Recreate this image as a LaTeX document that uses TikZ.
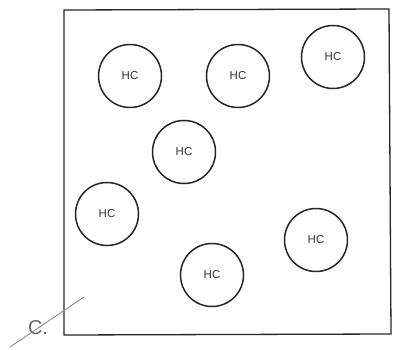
\documentclass[tikz,border=0pt]{standalone}
\usepackage{fontspec}
\setmainfont{Liberation Sans}
\usetikzlibrary{positioning}

\begin{document}
\begin{tikzpicture}[x=1pt, y=-1pt,
    cell/.style={circle, draw=black!85, line width=1.5pt, minimum size=63pt, inner sep=0pt, font=\fontsize{11.5}{12}\selectfont, text=black!80}]

        \useasboundingbox (0,0) rectangle (401,350);

        % Outer frame
        \draw[black!85, line width=1.3pt] (64,10) -- (389,9) -- (391,334) -- (64,335) -- cycle;

        % Cells
        \node[cell] (hc1) at (130,76) {HC};
        \node[cell] (hc2) at (238,76) {HC};
        \node[cell] (hc3) at (333,57) {HC};
        \node[cell] (hc4) at (184,152) {HC};
        \node[cell] (hc5) at (107,214) {HC};
        \node[cell] (hc6) at (316,240) {HC};
        \node[cell] (hc7) at (212,275) {HC};

        % Panel label
        \node[text=black!60, font=\fontsize{20}{22}\selectfont] (lab) at (38,328) {C.};
        \coordinate (s1) at (10,347);
        \coordinate (s2) at (84,297);
        \draw[black!45, line width=0.9pt] (s1) -- (s2);

    \end{tikzpicture}
\end{document}
